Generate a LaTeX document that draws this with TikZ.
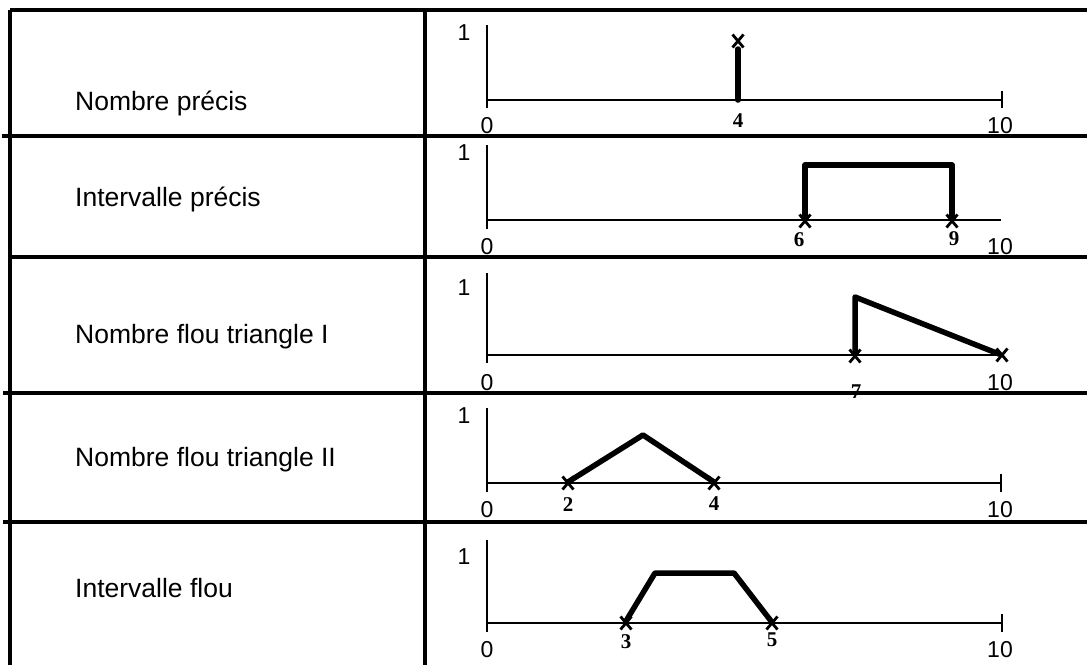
\documentclass[tikz,border=0pt]{standalone}
\usepackage{fontspec}
\setmainfont{Liberation Sans}
\newfontfamily\serifnum{Liberation Serif}
\begin{document}
\begin{tikzpicture}[x=1pt,y=-1pt,
  tbl/.style={line width=3.6pt},
  axisline/.style={line width=1.2pt},
  curve/.style={line width=5.5pt,line join=round,line cap=round},
  rowlbl/.style={anchor=base west,inner sep=0pt,font=\fontsize{26.5}{30}\selectfont},
  axlbl/.style={inner sep=0pt,font=\fontsize{23}{27}\selectfont},
  numlbl/.style={inner sep=0pt,font=\serifnum\bfseries\fontsize{21}{25}\selectfont},
  xm/.pic={\draw[line width=2.8pt] (-5.5,-6.5)--(5.5,6.5) (-5.5,6.5)--(5.5,-6.5);}
]
\useasboundingbox (0,0) rectangle (1087,665);
\fill[white] (0,0) rectangle (1087,665);

% row labels
\node[rowlbl] (r1) at (75,110) {Nombre précis};
\node[rowlbl] (r2) at (75,206) {Intervalle précis};
\node[rowlbl] (r3) at (75,343) {Nombre flou triangle I};
\node[rowlbl] (r4) at (75,466) {Nombre flou triangle II};
\node[rowlbl] (r5) at (75,597) {Intervalle flou};

% ---------- row 1
\draw[axisline] (487,25) -- (487,108);
\draw[axisline] (487,100) -- (1002,100);
\draw[axisline] (1002,91) -- (1002,108);
\node[axlbl] (a1one) at (464,33) {1};
\node[axlbl] (a1zero) at (487,126) {0};
\node[axlbl] (a1ten) at (1000,126) {10};
\draw[curve] (738,100) -- (738,49);
\pic at (738,41) {xm};
\node[numlbl] (n1a) at (738,121) {4};

% ---------- row 2
\draw[axisline] (487,145) -- (487,229);
\draw[axisline] (487,220) -- (1001,220);
\node[axlbl] (a2one) at (464,153) {1};
\node[axlbl] (a2zero) at (487,247) {0};
\node[axlbl] (a2ten) at (1000,247) {10};
\draw[curve] (805,218) -- (805,165) -- (952,165) -- (952,218);
\pic at (805,221) {xm};
\pic at (952,221) {xm};
\node[numlbl] (n2a) at (799,240) {6};
\node[numlbl] (n2b) at (954,239) {9};

% ---------- row 3
\draw[axisline] (487,273) -- (487,363);
\draw[axisline] (487,355) -- (1001,355);
\node[axlbl] (a3one) at (464,288) {1};
\node[axlbl] (a3zero) at (487,383) {0};
\node[axlbl] (a3ten) at (1000,383) {10};
\draw[curve] (855,353) -- (855,297) -- (999,354);
\pic at (855,356) {xm};
\pic at (1002,355) {xm};
\node[numlbl] (n3a) at (856,392) {7};

% ---------- row 4
\draw[axisline] (487,408) -- (487,492);
\draw[axisline] (487,483) -- (1001,483);
\draw[axisline] (1001,474) -- (1001,492);
\node[axlbl] (a4one) at (464,416) {1};
\node[axlbl] (a4zero) at (487,510) {0};
\node[axlbl] (a4ten) at (1000,510) {10};
\draw[curve] (568,482) -- (643,435) -- (714,482);
\pic at (568,483) {xm};
\pic at (714,483) {xm};
\node[numlbl] (n4a) at (568,505) {2};
\node[numlbl] (n4b) at (714,504) {4};

% ---------- row 5
\draw[axisline] (487,540) -- (487,632);
\draw[axisline] (487,623) -- (1002,623);
\draw[axisline] (1002,614) -- (1002,632);
\node[axlbl] (a5one) at (464,557) {1};
\node[axlbl] (a5zero) at (487,650) {0};
\node[axlbl] (a5ten) at (1000,650) {10};
\draw[curve] (626,621) -- (655,573) -- (734,573) -- (771,621);
\pic at (626,623) {xm};
\pic at (772,623) {xm};
\node[numlbl] (n5a) at (626,642) {3};
\node[numlbl] (n5b) at (772,640) {5};

% ---------- table lines
\draw[tbl] (10,10) -- (1087,10);
\draw[tbl] (10,10) -- (10,665);
\draw[tbl] (425,10) -- (425,665);
\draw[tbl] (2,136) -- (1087,136);
\draw[tbl] (12,257) -- (1087,257);
\draw[tbl] (3,393) -- (1087,393);
\draw[tbl] (3,522) -- (1087,522);
\end{tikzpicture}
\end{document}
